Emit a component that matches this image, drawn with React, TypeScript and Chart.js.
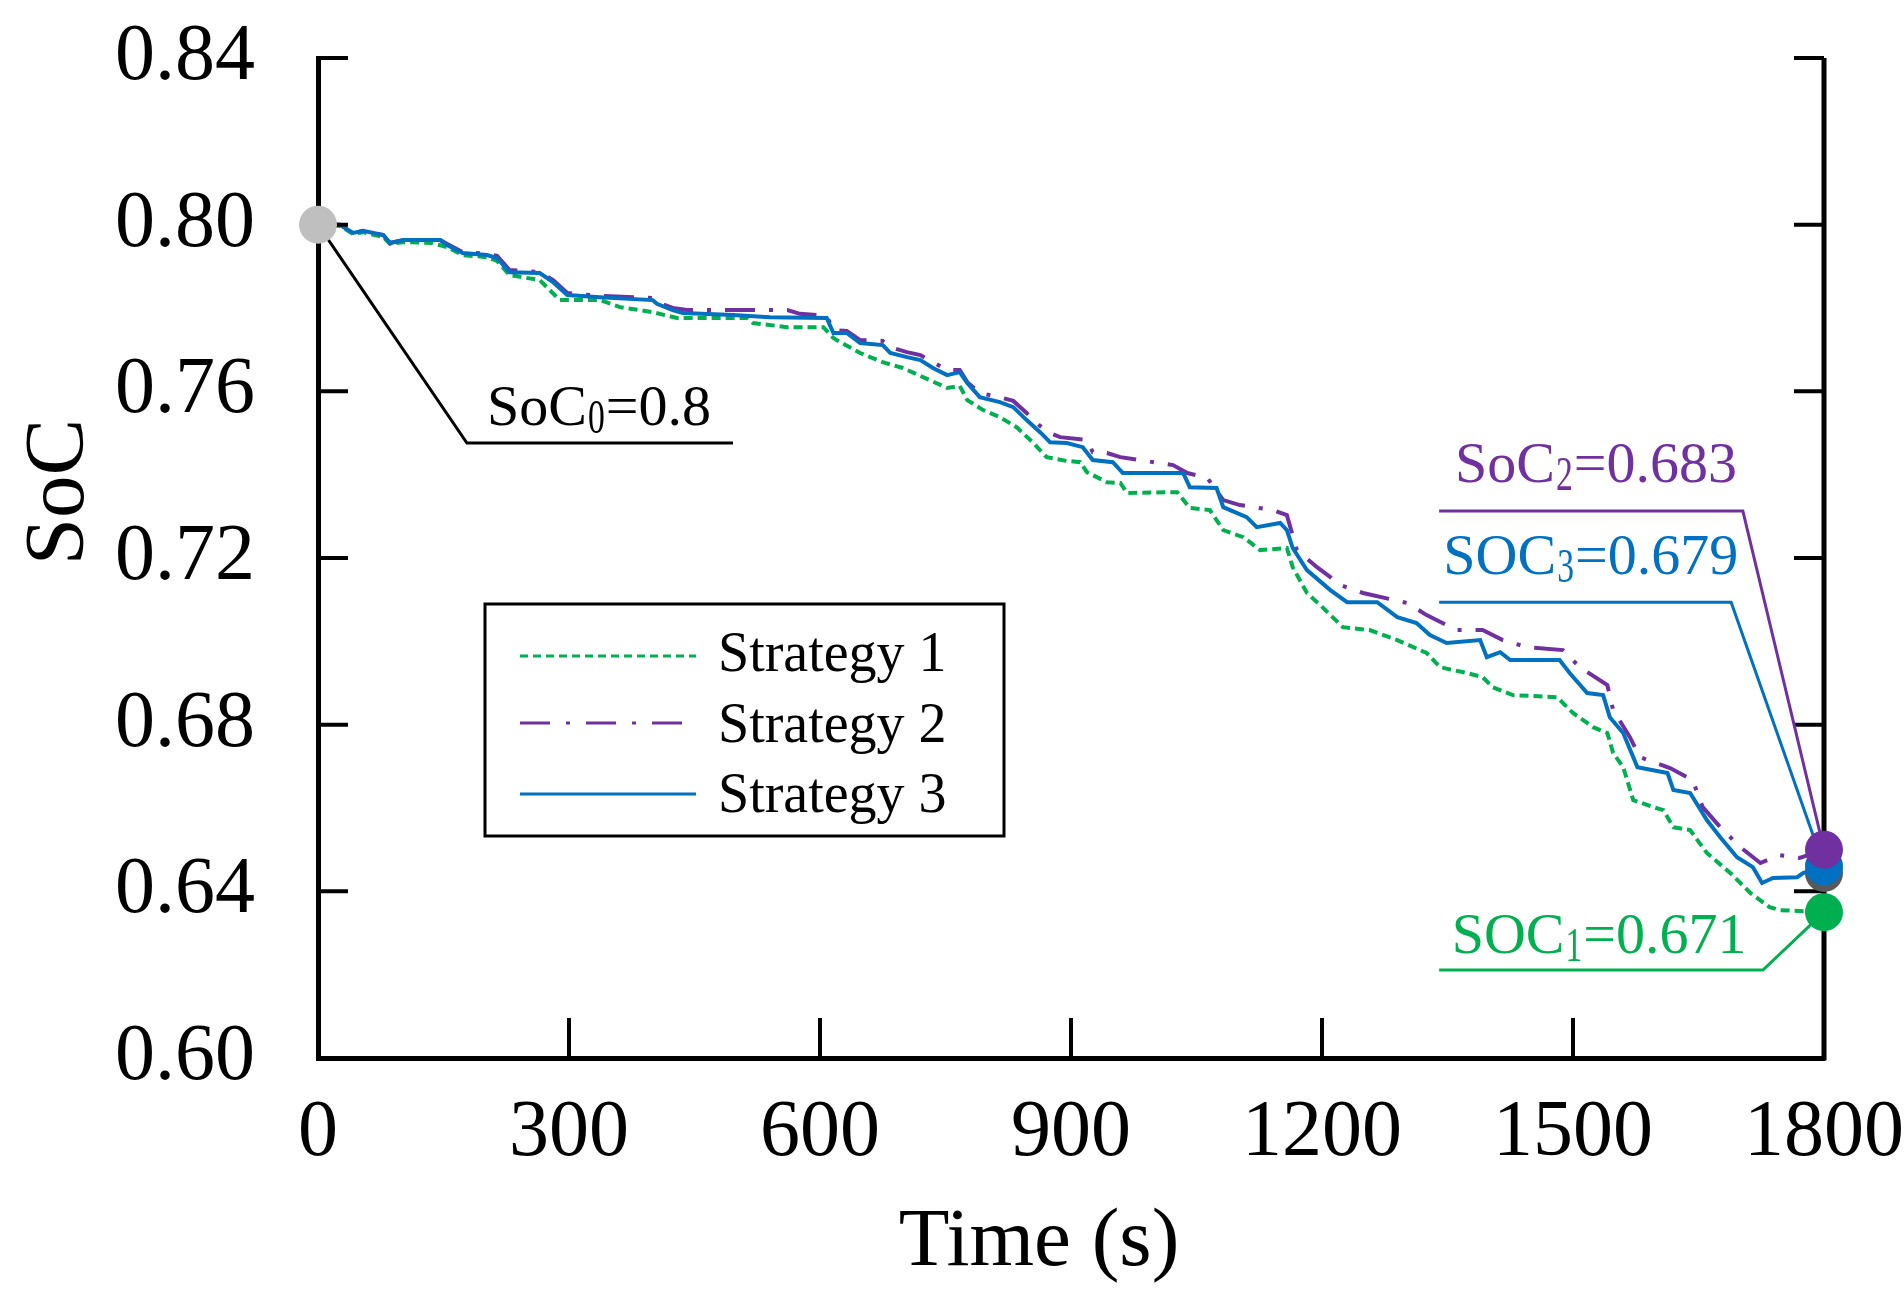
import { useEffect, useRef } from "react"
import { Chart, registerables, type ChartConfiguration, type Plugin } from "chart.js"

Chart.register(...registerables)

const FONT = '"Liberation Serif", "Times New Roman", serif'
const GREEN = "rgb(0, 176, 80)"
const PURPLE = "rgb(112, 48, 160)"
const BLUE = "rgb(0, 112, 192)"

// tick labels
const timeTicks = [0, 300, 600, 900, 1200, 1500, 1800]
const socTicks = [0.6, 0.64, 0.68, 0.72, 0.76, 0.8, 0.84]

// Strategy 1 (green, dashed)
const time1 = [
  0, 26, 42, 54, 78, 86, 102, 137, 154, 173,
  202, 214, 229, 265, 289, 337, 361, 400, 429, 513,
  520, 561, 604, 616, 620, 648, 675, 699, 731, 752,
  767, 776, 795, 815, 835, 855, 871, 895, 911, 919,
  943, 959, 967, 1027, 1042, 1066, 1082, 1106, 1126, 1158,
  1165, 1182, 1198, 1210, 1225, 1257, 1290, 1325, 1341, 1373,
  1392, 1404, 1428, 1481, 1500, 1524, 1541, 1548, 1560, 1572,
  1596, 1608, 1620, 1640, 1660, 1688, 1712, 1735, 1747, 1800,
]
const soc1 = [
  0.8, 0.7997, 0.7978, 0.7982, 0.797, 0.7954, 0.7958, 0.7956, 0.7946, 0.7927,
  0.7922, 0.7913, 0.7879, 0.7867, 0.7819, 0.7819, 0.7802, 0.779, 0.7776, 0.7776,
  0.7764, 0.7754, 0.7754, 0.7728, 0.7723, 0.7692, 0.767, 0.7656, 0.7627, 0.7608,
  0.7613, 0.7579, 0.7555, 0.7538, 0.7514, 0.7476, 0.7442, 0.7433, 0.743, 0.7406,
  0.7382, 0.738, 0.7356, 0.7358, 0.732, 0.7315, 0.7267, 0.725, 0.7219, 0.7224,
  0.7178, 0.7116, 0.7087, 0.7063, 0.7034, 0.7027, 0.7003, 0.6972, 0.6938, 0.6924,
  0.6914, 0.689, 0.6871, 0.6866, 0.6828, 0.6794, 0.678, 0.6732, 0.6698, 0.6619,
  0.6602, 0.6595, 0.6554, 0.6547, 0.6492, 0.6444, 0.6396, 0.6362, 0.6355, 0.635,
]

// Strategy 2 (purple, dash-dot)
const time2 = [
  0, 26, 42, 54, 78, 86, 102, 146, 154, 173,
  202, 214, 229, 265, 281, 298, 337, 400, 405, 424,
  441, 561, 576, 608, 616, 632, 648, 675, 684, 704,
  720, 735, 752, 767, 776, 791, 815, 831, 847, 863,
  875, 887, 919, 926, 943, 959, 1022, 1039, 1063, 1082,
  1102, 1141, 1158, 1170, 1194, 1210, 1222, 1249, 1302, 1325,
  1361, 1392, 1416, 1445, 1488, 1508, 1541, 1548, 1568, 1580,
  1616, 1643, 1655, 1676, 1700, 1724, 1747, 1771, 1800,
]
const soc2 = [
  0.8, 0.8, 0.798, 0.7985, 0.7975, 0.7956, 0.7963, 0.7963, 0.7954, 0.7934,
  0.793, 0.7925, 0.7891, 0.7886, 0.7867, 0.7836, 0.7829, 0.7824, 0.7814, 0.78,
  0.7795, 0.7795, 0.7786, 0.7781, 0.7747, 0.7745, 0.7723, 0.7721, 0.7706, 0.7694,
  0.7687, 0.767, 0.7651, 0.7651, 0.7622, 0.7596, 0.7586, 0.7577, 0.7548, 0.7517,
  0.75, 0.749, 0.7483, 0.7454, 0.7452, 0.7442, 0.7423, 0.7404, 0.7392, 0.7339,
  0.7327, 0.7315, 0.7303, 0.7219, 0.7178, 0.7154, 0.7135, 0.7116, 0.7092, 0.7063,
  0.7027, 0.7027, 0.7003, 0.6986, 0.6979, 0.6938, 0.6895, 0.6835, 0.677, 0.6722,
  0.6696, 0.6667, 0.6602, 0.6554, 0.6506, 0.6468, 0.6487, 0.648, 0.65,
]

// Strategy 3 (blue, solid)
const time3 = [
  0, 26, 42, 54, 78, 86, 102, 146, 154, 173,
  202, 214, 229, 265, 281, 298, 337, 400, 405, 424,
  436, 496, 540, 608, 616, 632, 648, 675, 684, 704,
  720, 735, 752, 767, 776, 791, 815, 831, 847, 863,
  875, 895, 914, 926, 950, 962, 1034, 1042, 1074, 1082,
  1110, 1122, 1150, 1158, 1165, 1182, 1210, 1230, 1266, 1290,
  1313, 1329, 1349, 1389, 1397, 1413, 1425, 1484, 1496, 1517,
  1536, 1544, 1560, 1577, 1613, 1620, 1640, 1660, 1676, 1696,
  1715, 1726, 1739, 1768, 1775, 1800,
]
const soc3 = [
  0.8, 0.8, 0.798, 0.7985, 0.7975, 0.7956, 0.7963, 0.7963, 0.7951, 0.7932,
  0.7927, 0.792, 0.7886, 0.7884, 0.7862, 0.7831, 0.7826, 0.7819, 0.781, 0.7795,
  0.7788, 0.7783, 0.7778, 0.7776, 0.774, 0.774, 0.7716, 0.7711, 0.7692, 0.7682,
  0.7675, 0.7656, 0.7639, 0.7646, 0.762, 0.7586, 0.7574, 0.7562, 0.7531, 0.7502,
  0.7478, 0.7476, 0.7466, 0.7435, 0.743, 0.7404, 0.7404, 0.737, 0.7368, 0.7322,
  0.7298, 0.7274, 0.7284, 0.7267, 0.7224, 0.7171, 0.7123, 0.7094, 0.7094, 0.7058,
  0.7044, 0.7015, 0.6996, 0.7003, 0.6962, 0.6974, 0.6955, 0.6955, 0.6924, 0.6876,
  0.6871, 0.6818, 0.678, 0.6698, 0.6684, 0.6643, 0.6636, 0.6571, 0.653, 0.6482,
  0.6458, 0.642, 0.6432, 0.6434, 0.6444, 0.646,
]

// initial SoC and the grey end marker sitting behind the others
const socStart = 0.8
const socGreyEnd = 0.6444

// callout texts
const calloutNames = ["SoC", "SoC", "SOC", "SOC"]
const calloutSubs = ["0", "2", "3", "1"]
const calloutValues = ["0.8", "0.683", "0.679", "0.671"]

const legendLabels = ["Strategy 1", "Strategy 2", "Strategy 3"]

function subText(
  ctx: CanvasRenderingContext2D,
  x: number,
  y: number,
  main: string,
  sub: string,
  rest: string,
  size: number,
  color: string
) {
  ctx.fillStyle = color
  ctx.textAlign = "left"
  ctx.textBaseline = "alphabetic"
  ctx.font = `${size}px ${FONT}`
  ctx.fillText(main, x, y)
  let cx = x + ctx.measureText(main).width + 1
  ctx.save()
  ctx.translate(cx, y + size * 0.14)
  ctx.scale(0.58, 0.85)
  ctx.fillText(sub, 0, 0)
  cx += ctx.measureText(sub).width * 0.58 + 1
  ctx.restore()
  ctx.font = `${size}px ${FONT}`
  ctx.fillText(rest, cx, y)
}

const overlay: Plugin<"line"> = {
  id: "overlay",
  afterDraw(chart) {
    const { ctx, chartArea: ca } = chart
    const xs = chart.scales.x
    const ys = chart.scales.y
    const px = (t: number) => xs.getPixelForValue(t)
    const py = (v: number) => ys.getPixelForValue(v)
    ctx.save()

    // right axis
    ctx.strokeStyle = "#000"
    ctx.lineWidth = 5
    ctx.beginPath()
    ctx.moveTo(ca.right, ca.top)
    ctx.lineTo(ca.right, ca.bottom + 2.5)
    ctx.stroke()

    // inward ticks
    ctx.lineWidth = 4
    ctx.beginPath()
    for (const v of socTicks) {
      const y = py(v)
      ctx.moveTo(ca.left, y)
      ctx.lineTo(ca.left + 30, y)
      ctx.moveTo(ca.right, y)
      ctx.lineTo(ca.right - 30, y)
    }
    for (const t of timeTicks) {
      const x = px(t)
      ctx.moveTo(x, ca.bottom)
      ctx.lineTo(x, ca.bottom - 40)
    }
    ctx.stroke()

    // callout leaders
    const endT = time3[time3.length - 1]
    const leaders: [string, number, number, number, number, number][] = [
      ["#000", 0, socStart, 178, 0.7476, 496],
      [PURPLE, endT, soc2[soc2.length - 1], 1703, 0.7313, 1340],
      [BLUE, endT, soc3[soc3.length - 1], 1689, 0.7094, 1340],
      [GREEN, endT, soc1[soc1.length - 1], 1727, 0.6211, 1340],
    ]
    ctx.lineWidth = 3
    for (const [c, t0, v0, te, ve, tt] of leaders) {
      ctx.strokeStyle = c
      ctx.beginPath()
      ctx.moveTo(px(t0), py(v0))
      ctx.lineTo(px(te), py(ve))
      ctx.lineTo(px(tt), py(ve))
      ctx.stroke()
    }

    // markers
    const dot = (t: number, v: number, c: string) => {
      ctx.fillStyle = c
      ctx.beginPath()
      ctx.arc(px(t), py(v), 19, 0, Math.PI * 2)
      ctx.fill()
    }
    dot(0, socStart, "#BFBFBF")
    dot(endT, socGreyEnd, "#595959")
    dot(endT, soc3[soc3.length - 1], BLUE)
    dot(endT, soc2[soc2.length - 1], PURPLE)
    dot(endT, soc1[soc1.length - 1], GREEN)

    // callout texts
    const textAt: [number, number, string][] = [
      [202, 0.7519, "#000"],
      [1359, 0.7382, PURPLE],
      [1345, 0.7162, BLUE],
      [1355, 0.6252, GREEN],
    ]
    textAt.forEach(([t, v, c], i) => {
      subText(ctx, px(t), py(v), calloutNames[i], calloutSubs[i], "=" + calloutValues[i], 58, c)
    })

    // legend
    const bx = ca.left + 167
    const by = ca.top + 546
    ctx.strokeStyle = "#000"
    ctx.lineWidth = 3
    ctx.strokeRect(bx, by, 519, 232)
    const styles: [string, number[]][] = [
      [GREEN, [8, 5]],
      [PURPLE, [30, 16, 4, 16]],
      [BLUE, []],
    ]
    const lineY = [52, 119, 190]
    const textY = [67, 138, 208]
    styles.forEach(([c, dash], i) => {
      ctx.strokeStyle = c
      ctx.setLineDash(dash)
      ctx.beginPath()
      ctx.moveTo(bx + 35, by + lineY[i])
      ctx.lineTo(bx + 211, by + lineY[i])
      ctx.stroke()
      ctx.setLineDash([])
      ctx.fillStyle = "#000"
      ctx.font = `56px ${FONT}`
      ctx.textAlign = "left"
      ctx.textBaseline = "alphabetic"
      ctx.fillText(legendLabels[i], bx + 233, by + textY[i])
    })

    // axis titles
    ctx.fillStyle = "#000"
    ctx.font = `83px ${FONT}`
    ctx.textAlign = "center"
    ctx.textBaseline = "alphabetic"
    ctx.fillText("Time (s)", (ca.left + ca.right) / 2 - 32, ca.bottom + 207)
    ctx.save()
    ctx.translate(83, ca.top + 434)
    ctx.rotate(-Math.PI / 2)
    ctx.font = `85px ${FONT}`
    ctx.fillText("SoC", 0, 0)
    ctx.restore()

    ctx.restore()
  },
}

export default function App() {
  const canvasRef = useRef<HTMLCanvasElement>(null)
  const chartRef = useRef<Chart<"line"> | null>(null)

  useEffect(() => {
    document.body.style.margin = "0"
    if (!canvasRef.current) return
    if (chartRef.current) chartRef.current.destroy()

    const tickFont = { family: FONT, size: 80 }
    const config: ChartConfiguration<"line"> = {
      type: "line",
      data: {
        datasets: [
          {
            label: legendLabels[0],
            data: time1.map((t, i) => ({ x: t, y: soc1[i] })),
            borderColor: GREEN,
            borderWidth: 4,
            borderDash: [9, 5],
            pointRadius: 0,
            order: 3,
          },
          {
            label: legendLabels[1],
            data: time2.map((t, i) => ({ x: t, y: soc2[i] })),
            borderColor: PURPLE,
            borderWidth: 4,
            borderDash: [30, 14, 4, 14],
            pointRadius: 0,
            order: 2,
          },
          {
            label: legendLabels[2],
            data: time3.map((t, i) => ({ x: t, y: soc3[i] })),
            borderColor: BLUE,
            borderWidth: 4,
            pointRadius: 0,
            order: 1,
          },
        ],
      },
      options: {
        responsive: false,
        animation: false,
        devicePixelRatio: 1,
        layout: { padding: { left: 0, top: 58, right: 80, bottom: 0 } },
        plugins: { legend: { display: false }, tooltip: { enabled: false } },
        scales: {
          x: {
            type: "linear",
            min: 0,
            max: 1800,
            grid: { display: false, drawTicks: false },
            border: { display: true, color: "#000", width: 5 },
            ticks: {
              font: tickFont,
              color: "#000",
              padding: 28,
              maxRotation: 0,
              autoSkip: false,
              callback: (v) => String(v),
            },
            afterBuildTicks: (s) => {
              s.ticks = timeTicks.map((v) => ({ value: v }))
            },
            afterFit: (s) => {
              s.height = 243
              s.paddingLeft = 0
              s.paddingRight = 0
            },
          },
          y: {
            type: "linear",
            min: 0.6,
            max: 0.84,
            grid: { display: false, drawTicks: false },
            border: { display: true, color: "#000", width: 5 },
            ticks: {
              font: tickFont,
              color: "#000",
              padding: 63,
              callback: (v) => Number(v).toFixed(2),
            },
            afterBuildTicks: (s) => {
              s.ticks = socTicks.map((v) => ({ value: v }))
            },
            afterFit: (s) => {
              s.width = 318
              s.paddingTop = 0
              s.paddingBottom = 0
            },
          },
        },
      },
      plugins: [overlay],
    }

    chartRef.current = new Chart(canvasRef.current, config)
    return () => {
      if (chartRef.current) {
        chartRef.current.destroy()
        chartRef.current = null
      }
    }
  }, [])

  return (
    <div style={{ width: 1904, height: 1301, background: "#fff" }}>
      <canvas ref={canvasRef} width={1904} height={1301} style={{ display: "block" }} />
    </div>
  )
}
